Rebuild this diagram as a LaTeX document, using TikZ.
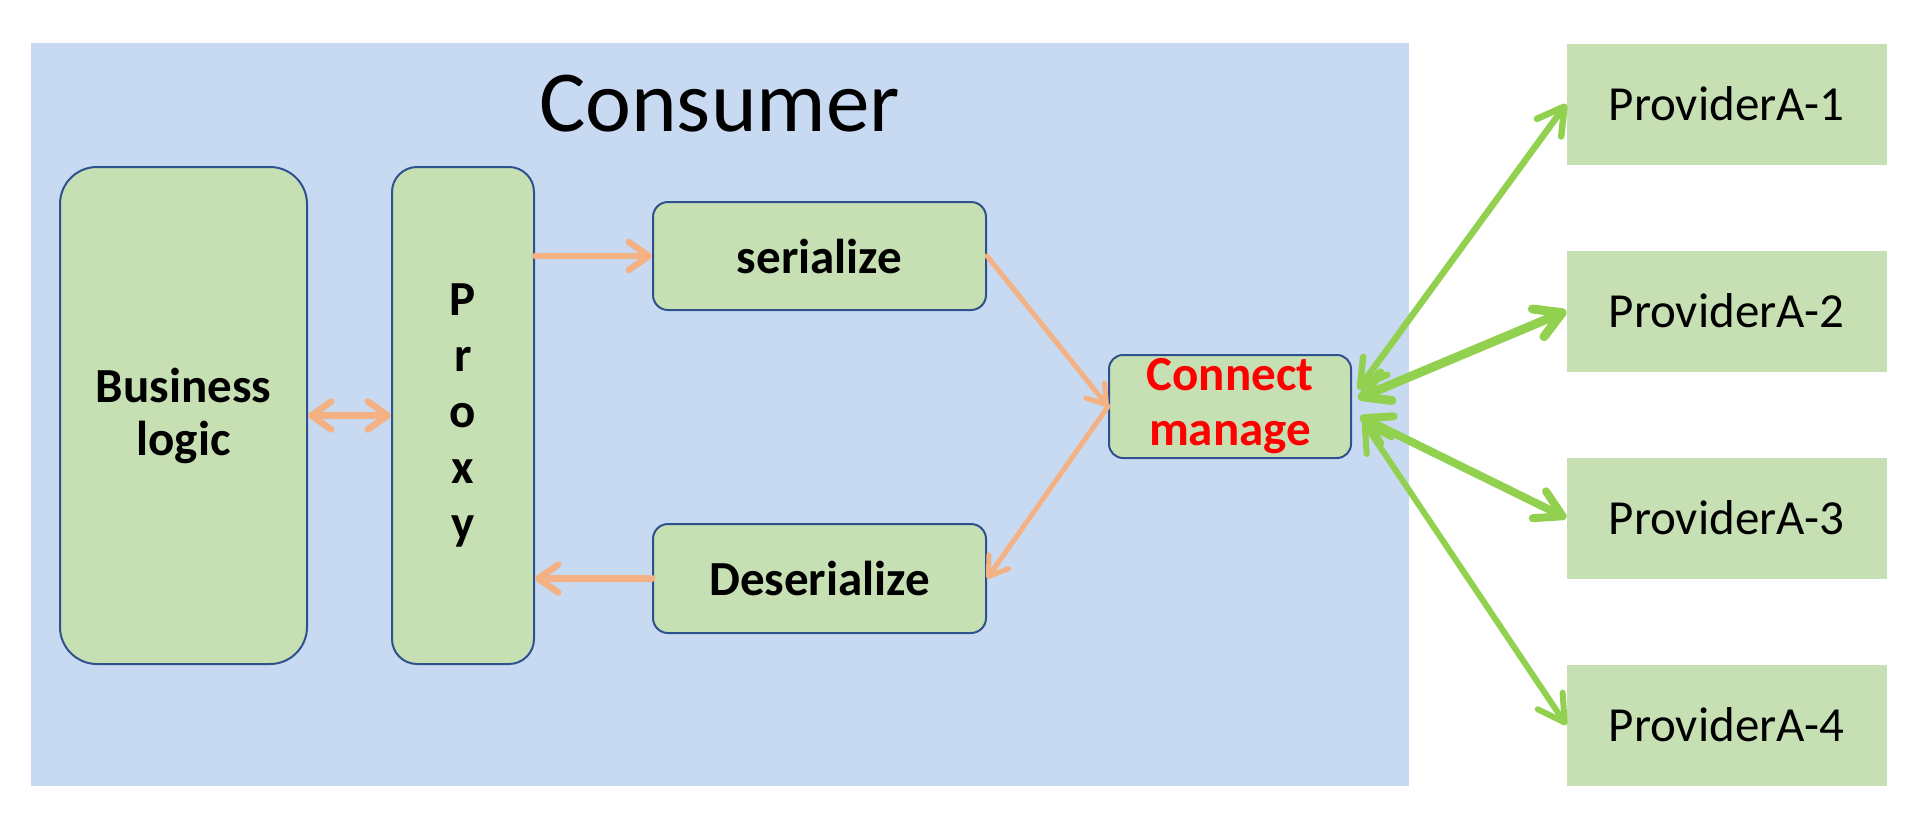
\documentclass[tikz,border=0pt]{standalone}
\usepackage{fontspec}
\setmainfont{Carlito}
\usetikzlibrary{arrows.meta}
\definecolor{bgblue}{HTML}{C8DAF1}
\definecolor{boxgreen}{HTML}{C6E0B4}
\definecolor{edgeblue}{HTML}{2F528F}
\definecolor{arrorange}{HTML}{F4B183}
\definecolor{arrgreen}{HTML}{92D050}
\definecolor{txtred}{HTML}{FF0000}
\begin{document}
\begin{tikzpicture}[x=1pt,y=-1pt,
  rbox/.style={draw=edgeblue, line width=2pt, fill=boxgreen, inner sep=0pt, align=center,
    font=\bfseries\fontsize{49}{53}\selectfont},
  pbox/.style={fill=boxgreen, inner sep=0pt, minimum width=320pt, minimum height=121pt,
    font=\fontsize{49}{53}\selectfont},
  othick/.style={draw=arrorange, line width=6.5pt, line cap=round,
    -{Straight Barb[round,length=20pt,width=28pt]}},
  othin/.style={draw=arrorange, line width=5pt, line cap=round,
    -{Straight Barb[round,length=18pt,width=24pt]}},
  garr/.style={draw=arrgreen, line cap=round,
    {Straight Barb[round,length=26pt,width=30pt]}-{Straight Barb[round,length=26pt,width=30pt]}}
]
\useasboundingbox (0,0) rectangle (1920,828);
\fill[white] (0,0) rectangle (1920,828);
% consumer background
\node[fill=bgblue, inner sep=0pt, minimum width=1378pt, minimum height=743pt] (cons) at (719.8,414.5) {};
\node[anchor=base, inner sep=0pt, font=\fontsize{87}{100}\selectfont] (title) at (719.5,131) {Consumer};

% boxes
\node[rbox, rounded corners=37pt, minimum width=247pt, minimum height=497pt] (biz) at (183.5,415.5) {Business\\logic};
\node[rbox, rounded corners=25pt, minimum width=142pt, minimum height=497pt, font=\bfseries\fontsize{49}{56}\selectfont] (proxy) at (463,415.5) {P\\r\\o\\x\\y};
\node[rbox, rounded corners=15pt, minimum width=333pt, minimum height=108pt] (ser) at (819.5,256) {serialize};
\node[rbox, rounded corners=15pt, minimum width=333pt, minimum height=109pt] (deser) at (819.5,578.5) {Deserialize};
\node[rbox, rounded corners=14pt, minimum width=242pt, minimum height=103pt, text=txtred, font=\bfseries\fontsize{49}{55}\selectfont] (conn) at (1230,406.5) {Connect\\manage};

% providers
\node[pbox] (p1) at (1726.5,104) {ProviderA-1};
\node[pbox] (p2) at (1726.5,311) {ProviderA-2};
\node[pbox] (p3) at (1726.5,518) {ProviderA-3};
\node[pbox] (p4) at (1726.5,725) {ProviderA-4};

% orange connectors
\draw[othick, {Straight Barb[round,length=20pt,width=28pt]}-{Straight Barb[round,length=20pt,width=28pt]}] (biz.east) -- (proxy.west);
\draw[othick] (ser.west -| proxy.east) -- (ser.west);
\draw[othin] (ser.east) -- (conn.west);
\draw[othin] (conn.west) -- (deser.east);
\draw[othick] (deser.west) -- (deser.west -| proxy.east);

% green connectors
\draw[garr, line width=6.5pt] ([xshift=6pt,yshift=17pt]conn.east) -- (p1.west);
\draw[garr, line width=9pt] ([xshift=6pt,yshift=8pt]conn.east) -- (p2.west);
\draw[garr, line width=8pt] ([xshift=8pt,yshift=-10pt]conn.east) -- (p3.west);
\draw[garr, line width=6pt] ([xshift=11pt,yshift=-15pt]conn.east) -- (p4.west);
\end{tikzpicture}
\end{document}
